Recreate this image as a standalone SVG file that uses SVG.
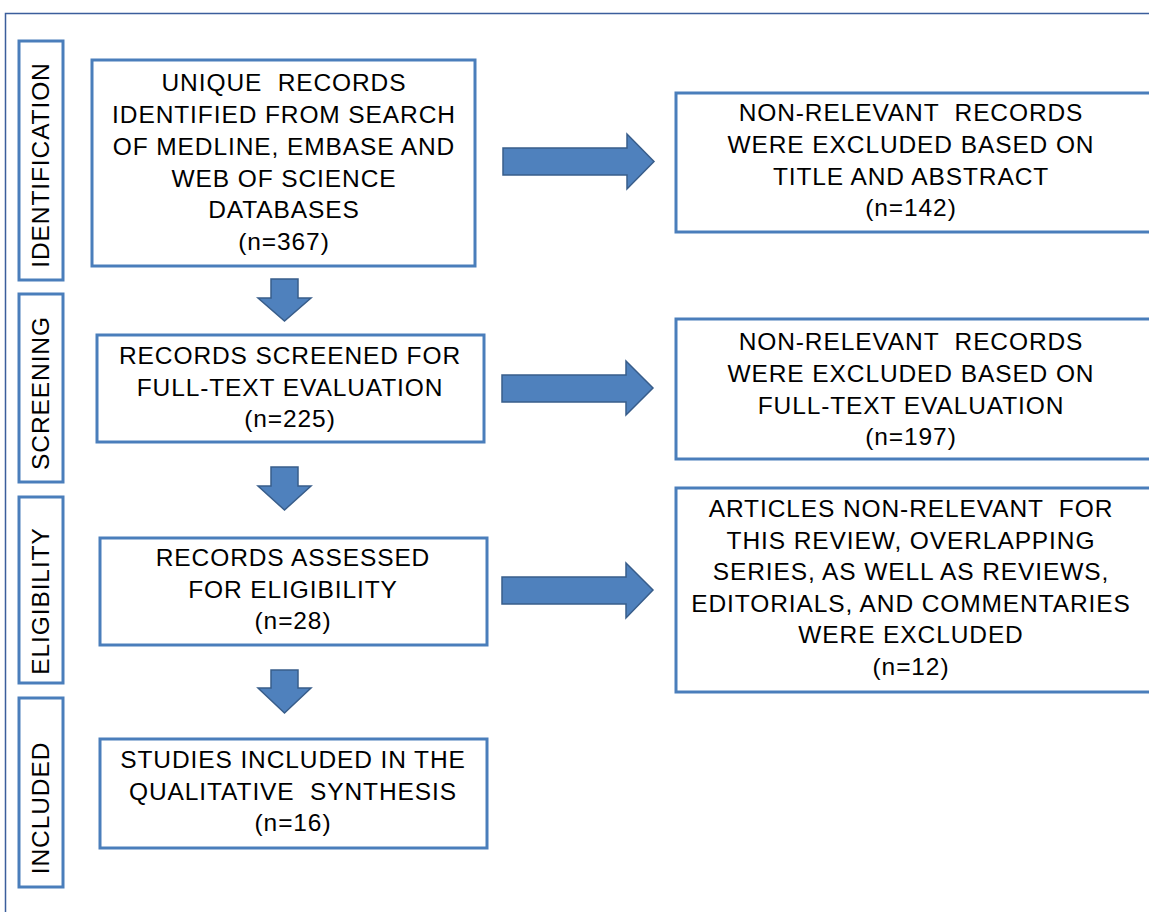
<svg xmlns="http://www.w3.org/2000/svg" width="1149" height="912" viewBox="0 0 1149 912">
<style>
.frame{fill:none;stroke:#3b5e9c;stroke-width:1.5}
.box{fill:#fff;stroke:#4a7ebb;stroke-width:3}
.arr{fill:#4f81bd;stroke:#385d8a;stroke-width:1.5;stroke-linejoin:miter}
text{font-family:"Liberation Sans",Arial,sans-serif;font-size:24.5px;fill:#000;text-anchor:middle;letter-spacing:0.9px;white-space:pre}
</style>
<rect x="0" y="0" width="1149" height="912" fill="#fff"/>
<rect class="frame" x="5.5" y="13.5" width="1200" height="1000"/>

<g id="stage-identification">
<rect class="box" x="19" y="41" width="44" height="239"/>
<text transform="translate(49,165) rotate(-90)">IDENTIFICATION</text>
</g>
<g id="stage-screening">
<rect class="box" x="19" y="294" width="44" height="188"/>
<text transform="translate(49,393) rotate(-90)">SCREENING</text>
</g>
<g id="stage-eligibility">
<rect class="box" x="19" y="497" width="44" height="186"/>
<text transform="translate(49,601) rotate(-90)">ELIGIBILITY</text>
</g>
<g id="stage-included">
<rect class="box" x="19" y="698" width="44" height="189"/>
<text transform="translate(49,808) rotate(-90)">INCLUDED</text>
</g>

<g id="node-identified">
<rect class="box" x="92" y="60" width="383" height="206"/>
<text x="284" y="91" xml:space="preserve">UNIQUE  RECORDS</text>
<text x="284" y="123">IDENTIFIED FROM SEARCH</text>
<text x="284" y="155">OF MEDLINE, EMBASE AND</text>
<text x="284" y="187">WEB OF SCIENCE</text>
<text x="284" y="218">DATABASES</text>
<text x="284" y="250">(n=367)</text>
</g>
<g id="node-screened">
<rect class="box" x="97" y="335" width="387" height="107"/>
<text x="290" y="364">RECORDS SCREENED FOR</text>
<text x="290" y="396">FULL-TEXT EVALUATION</text>
<text x="290" y="427">(n=225)</text>
</g>
<g id="node-assessed">
<rect class="box" x="100" y="538" width="387" height="107"/>
<text x="293" y="566">RECORDS ASSESSED</text>
<text x="293" y="598">FOR ELIGIBILITY</text>
<text x="293" y="629">(n=28)</text>
</g>
<g id="node-included">
<rect class="box" x="100" y="739" width="387" height="109"/>
<text x="293" y="768">STUDIES INCLUDED IN THE</text>
<text x="293" y="800" xml:space="preserve">QUALITATIVE  SYNTHESIS</text>
<text x="293" y="831">(n=16)</text>
</g>

<g id="node-excluded-title">
<rect class="box" x="676" y="93" width="480" height="139"/>
<text x="911" y="121" xml:space="preserve">NON-RELEVANT  RECORDS</text>
<text x="911" y="153">WERE EXCLUDED BASED ON</text>
<text x="911" y="185">TITLE AND ABSTRACT</text>
<text x="911" y="216">(n=142)</text>
</g>
<g id="node-excluded-fulltext">
<rect class="box" x="676" y="319" width="480" height="140"/>
<text x="911" y="350" xml:space="preserve">NON-RELEVANT  RECORDS</text>
<text x="911" y="382">WERE EXCLUDED BASED ON</text>
<text x="911" y="414">FULL-TEXT EVALUATION</text>
<text x="911" y="445">(n=197)</text>
</g>
<g id="node-excluded-articles">
<rect class="box" x="676" y="488" width="480" height="204"/>
<text x="911" y="517" xml:space="preserve">ARTICLES NON-RELEVANT  FOR</text>
<text x="911" y="549">THIS REVIEW, OVERLAPPING</text>
<text x="911" y="580">SERIES, AS WELL AS REVIEWS,</text>
<text x="911" y="612">EDITORIALS, AND COMMENTARIES</text>
<text x="911" y="643">WERE EXCLUDED</text>
<text x="911" y="675">(n=12)</text>
</g>

<g id="connectors">
<polygon class="arr" points="503,148 627,148 627,134 654,161.5 627,189 627,175 503,175"/>
<polygon class="arr" points="502,375 626,375 626,361 653,388 626,415 626,402 502,402"/>
<polygon class="arr" points="502,577 626,577 626,563 653,590 626,618 626,604 502,604"/>
<polygon class="arr" points="271,279 298,279 298,298 311,298 284.5,321 258,298 271,298"/>
<polygon class="arr" points="271,467 298,467 298,486 311,486 284.5,510 258,486 271,486"/>
<polygon class="arr" points="271,670 298,670 298,688 311,688 284.5,713 258,688 271,688"/>
</g>
</svg>
